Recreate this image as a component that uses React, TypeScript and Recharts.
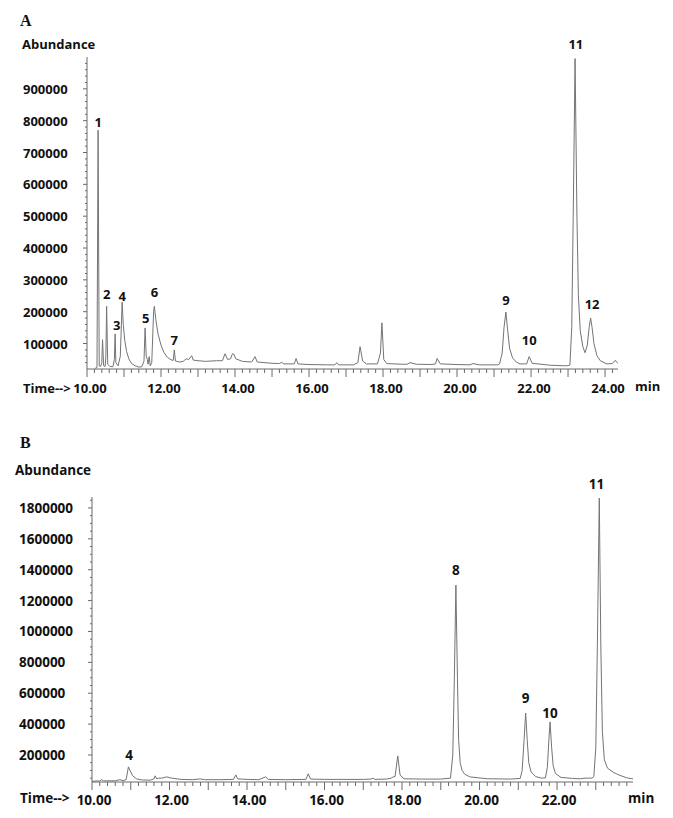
import React from 'react';
import { LineChart, Line, XAxis, YAxis, ReferenceDot } from 'recharts';

// ---------- Panel A data ----------
const timesA = [
  10.22, 10.27, 10.3, 10.33, 10.37, 10.4, 10.42, 10.45, 10.49, 10.51, 10.53, 10.56, 10.62, 10.7, 10.74, 10.76, 10.78,
  10.84, 10.9, 10.95, 10.98, 11.02, 11.07, 11.13, 11.2, 11.3, 11.4, 11.48, 11.54, 11.57, 11.6, 11.63, 11.65, 11.68,
  11.71, 11.75, 11.8, 11.82, 11.86, 11.92, 12.0, 12.08, 12.17, 12.27, 12.33, 12.36, 12.39, 12.5, 12.6, 12.68, 12.75,
  12.83, 12.87, 13.0, 13.2, 13.5, 13.66, 13.73, 13.8, 13.88, 13.93, 13.97, 14.02, 14.2, 14.45, 14.54, 14.6, 15.0,
  15.2, 15.26, 15.32, 15.6, 15.65, 15.7, 16.0, 16.5, 16.7, 16.75, 16.8, 17.2, 17.32, 17.38, 17.45, 17.55, 17.85,
  17.93, 17.97, 18.02, 18.1, 18.5, 18.65, 18.73, 18.9, 19.3, 19.42, 19.46, 19.55, 20.0, 20.35, 20.43, 20.6, 21.1,
  21.15, 21.22, 21.27, 21.32, 21.37, 21.42, 21.5, 21.6, 21.7, 21.88, 21.95, 22.03, 22.5, 22.95, 23.05,
  23.1, 23.14, 23.19, 23.24, 23.28, 23.33, 23.4, 23.46, 23.52, 23.57, 23.61, 23.65, 23.7, 23.78, 23.88, 24.05, 24.2, 24.27, 24.35,
];
const abundanceA = [
  22000, 25000, 770000, 30000, 28000, 40000, 112000, 30000, 28000, 60000, 217000, 35000, 28000, 27000, 50000, 130000, 40000,
  30000, 60000, 230000, 160000, 110000, 75000, 52000, 38000, 30000, 26000, 27000, 45000, 149000, 60000, 50000, 35000, 59000,
  30000, 40000, 200000, 217000, 175000, 130000, 95000, 72000, 57000, 49000, 47000, 80000, 45000, 42000, 44000, 52000, 50000,
  62000, 48000, 46000, 44000, 46000, 46000, 68000, 50000, 52000, 68000, 66000, 52000, 44000, 42000, 59000, 42000, 38000,
  37000, 41000, 36000, 36000, 53000, 36000, 34000, 33000, 33000, 40000, 33000, 33000, 40000, 90000, 45000, 36000, 36000,
  70000, 165000, 50000, 37000, 35000, 35000, 40000, 35000, 34000, 36000, 53000, 36000, 34000, 33000, 37000, 33000, 33000,
  36000, 70000, 150000, 199000, 140000, 85000, 55000, 42000, 36000, 36000, 59000, 38000, 32000, 30000, 32000,
  150000, 500000, 995000, 500000, 250000, 140000, 90000, 71000, 95000, 150000, 180000, 150000, 100000, 62000, 45000, 36000, 37000, 47000, 38000,
];
const peakNamesA = ['1', '2', '3', '4', '5', '6', '7', '9', '10', '11', '12'];
const peakLabelTimesA = [10.3, 10.53, 10.8, 10.95, 11.59, 11.82, 12.36, 21.32, 21.95, 23.21, 23.65];
const peakLabelLevelsA = [796800, 255600, 158200, 249300, 180200, 261900, 111100, 236700, 111100, 1040800, 224200];
const yLabelTicksA = [100000, 200000, 300000, 400000, 500000, 600000, 700000, 800000, 900000];
const xLabelTicksA = [10, 12, 14, 16, 18, 20, 22, 24];

// ---------- Panel B data ----------
const timesB = [
  10.0, 10.2, 10.25, 10.3, 10.6, 10.72, 10.8, 10.88, 10.94, 10.98, 11.05, 11.15, 11.3, 11.5, 11.6, 11.63, 11.67, 11.72,
  11.8, 11.93, 12.05, 12.3, 12.6, 12.79, 12.9, 13.3, 13.65, 13.71, 13.76, 14.0, 14.3, 14.48, 14.55, 15.0, 15.52, 15.58,
  15.64, 16.0, 16.5, 17.0, 17.2, 17.25, 17.3, 17.6, 17.72, 17.77, 17.82, 17.89, 17.95, 18.05, 18.5, 19.0, 19.25,
  19.31, 19.35, 19.39, 19.43, 19.46, 19.5, 19.55, 19.62, 19.75, 20.2, 20.8,
  21.05, 21.1, 21.15, 21.19, 21.23, 21.27, 21.33, 21.45, 21.6, 21.7, 21.75, 21.79, 21.82, 21.86, 21.9, 21.96, 22.1,
  22.4, 22.6, 22.75, 22.9, 22.95, 23.0, 23.04, 23.09, 23.13, 23.17, 23.22, 23.3, 23.45, 23.6, 23.8, 23.96,
];
const abundanceB = [
  30000, 32000, 40000, 32000, 33000, 40000, 34000, 40000, 123000, 100000, 65000, 45000, 38000, 37000, 45000, 65000, 45000, 50000,
  50000, 58000, 50000, 42000, 40000, 45000, 40000, 40000, 42000, 71000, 45000, 42000, 40000, 58000, 42000, 40000, 42000, 78000,
  44000, 42000, 42000, 42000, 44000, 50000, 42000, 44000, 50000, 58000, 60000, 194000, 70000, 46000, 44000, 44000, 50000,
  200000, 700000, 1300000, 700000, 300000, 150000, 100000, 75000, 58000, 46000, 44000,
  48000, 100000, 300000, 472000, 300000, 150000, 90000, 60000, 50000, 52000, 120000, 300000, 414000, 250000, 130000, 80000, 55000,
  48000, 46000, 50000, 50000, 60000, 250000, 900000, 1864000, 900000, 350000, 170000, 115000, 88000, 70000, 52000, 45000,
];
const peakNamesB = ['4', '8', '9', '10', '11'];
const peakLabelTimesB = [10.96, 19.39, 21.19, 21.82, 23.02];
const peakLabelLevelsB = [199900, 1398300, 567200, 473900, 1955400];
const yLabelTicksB = [200000, 400000, 600000, 800000, 1000000, 1200000, 1400000, 1600000, 1800000];
const xLabelTicksB = [10, 12, 14, 16, 18, 20, 22];

// ---------- helpers ----------
const FONT = '"Open Sans", "Noto Sans", sans-serif';
const TRACE = '#747474';
const AXIS = '#6a6a6a';

const toRows = (ts: number[], vs: number[]) => ts.map((t, i) => ({ t, v: vs[i] }));
const dataA = toRows(timesA, abundanceA);
const dataB = toRows(timesB, abundanceB);

const minorY = (lo: number, hi: number, step: number) => {
  const out: number[] = [];
  for (let v = lo; v <= hi; v += step) out.push(v);
  return out;
};
const minorX = (lo: number, hi: number) => {
  const out: number[] = [];
  for (let k = Math.round(lo * 5); k <= Math.round(hi * 5); k++) out.push(k / 5);
  return out;
};

const makeYTick = (labels: number[], labelLeft: number, fontSize: number) => (props: any) => {
  const { x, y, payload } = props;
  const v = payload.value as number;
  const isMajor = labels.includes(v);
  return (
    <g>
      <line x1={x} x2={x - (isMajor ? 4 : 2)} y1={y} y2={y} stroke={AXIS} strokeWidth={1} />
      {isMajor && (
        <text x={labelLeft} y={y} dominantBaseline="central" textAnchor="start" fontFamily={FONT} fontWeight={700} fontSize={fontSize} fill="#111">
          {String(v)}
        </text>
      )}
    </g>
  );
};

const makeXTick = (labels: number[], labelDy: number, dx: number, fontSize: number) => (props: any) => {
  const { x, y, payload } = props;
  const v = payload.value as number;
  const isInt = Math.abs(v - Math.round(v)) < 1e-6;
  const isLabel = isInt && labels.includes(Math.round(v));
  return (
    <g>
      <line x1={x} x2={x} y1={y} y2={y + (isInt ? 8 : 4)} stroke={AXIS} strokeWidth={1} />
      {isLabel && (
        <text x={x + dx} y={y + labelDy} dominantBaseline="central" textAnchor="middle" fontFamily={FONT} fontWeight={700} fontSize={fontSize} fill="#111">
          {v.toFixed(2)}
        </text>
      )}
    </g>
  );
};

const peakShape = (name: string, fontSize: number) => (props: any) => (
  <text x={props.cx} y={props.cy} dominantBaseline="central" textAnchor="middle" fontFamily={FONT} fontWeight={700} fontSize={fontSize} fill="#111">
    {name}
  </text>
);

const Txt = ({ left, cy, size, serif, children }: any) => (
  <div
    style={{
      position: 'absolute',
      left,
      top: cy - 10,
      height: 20,
      lineHeight: '20px',
      fontSize: size,
      fontWeight: 700,
      fontFamily: serif ? '"Liberation Serif", "DejaVu Serif", serif' : FONT,
      color: '#111',
      whiteSpace: 'nowrap',
    }}
  >
    {children}
  </div>
);

export default function App() {
  return (
    <div style={{ position: 'absolute', left: 0, top: 0, width: 673, height: 818, background: '#fff', overflow: 'hidden' }}>
      {/* Panel A */}
      <div style={{ position: 'absolute', left: 0, top: 0 }}>
        <LineChart width={673} height={410} data={dataA} margin={{ top: 57, right: 55, bottom: 0, left: 0 }}>
          <XAxis
            dataKey="t"
            type="number"
            domain={[10, 24.35]}
            allowDataOverflow
            ticks={minorX(10, 24.2)}
            interval={0}
            height={41}
            tickSize={0}
            tickMargin={0}
            tickLine={false}
            axisLine={{ stroke: AXIS }}
            tick={makeXTick(xLabelTicksA, 19, 3, 13)}
          />
          <YAxis
            type="number"
            domain={[20000, 1000000]}
            allowDataOverflow
            ticks={minorY(40000, 980000, 20000)}
            interval={0}
            width={87}
            tickSize={0}
            tickMargin={0}
            tickLine={false}
            axisLine={{ stroke: AXIS }}
            tick={makeYTick(yLabelTicksA, 23, 13)}
          />
          <Line type="linear" dataKey="v" stroke={TRACE} strokeWidth={1} dot={false} isAnimationActive={false} />
          {peakNamesA.map((n, i) => (
            <ReferenceDot key={'a' + n} x={peakLabelTimesA[i]} y={peakLabelLevelsA[i]} r={4} ifOverflow="visible" shape={peakShape(n, 13)} />
          ))}
        </LineChart>
      </div>

      {/* Panel B */}
      <div style={{ position: 'absolute', left: 0, top: 410 }}>
        <LineChart width={673} height={408} data={dataB} margin={{ top: 87, right: 40, bottom: 0, left: 0 }}>
          <XAxis
            dataKey="t"
            type="number"
            domain={[10, 23.96]}
            allowDataOverflow
            ticks={minorX(10, 23.8)}
            interval={0}
            height={36}
            tickSize={0}
            tickMargin={0}
            tickLine={false}
            axisLine={{ stroke: AXIS }}
            tick={makeXTick(xLabelTicksB, 18, 2, 13.5)}
          />
          <YAxis
            type="number"
            domain={[25000, 1871000]}
            allowDataOverflow
            ticks={minorY(50000, 1850000, 50000)}
            interval={0}
            width={92}
            tickSize={0}
            tickMargin={0}
            tickLine={false}
            axisLine={{ stroke: AXIS }}
            tick={makeYTick(yLabelTicksB, 19, 13.5)}
          />
          <Line type="linear" dataKey="v" stroke={TRACE} strokeWidth={1} dot={false} isAnimationActive={false} />
          {peakNamesB.map((n, i) => (
            <ReferenceDot key={'b' + n} x={peakLabelTimesB[i]} y={peakLabelLevelsB[i]} r={4} ifOverflow="visible" shape={peakShape(n, 13.5)} />
          ))}
        </LineChart>
      </div>

      {/* Static texts */}
      <Txt left={20} cy={21} size={16} serif>A</Txt>
      <Txt left={22} cy={44} size={13}>Abundance</Txt>
      <Txt left={23} cy={388} size={13}>{'Time-->'}</Txt>
      <Txt left={635} cy={386} size={13}>min</Txt>

      <Txt left={20} cy={443} size={16} serif>B</Txt>
      <Txt left={15} cy={470} size={13.5}>Abundance</Txt>
      <Txt left={20} cy={798} size={13.5}>{'Time-->'}</Txt>
      <Txt left={628} cy={798} size={13.5}>min</Txt>
    </div>
  );
}
